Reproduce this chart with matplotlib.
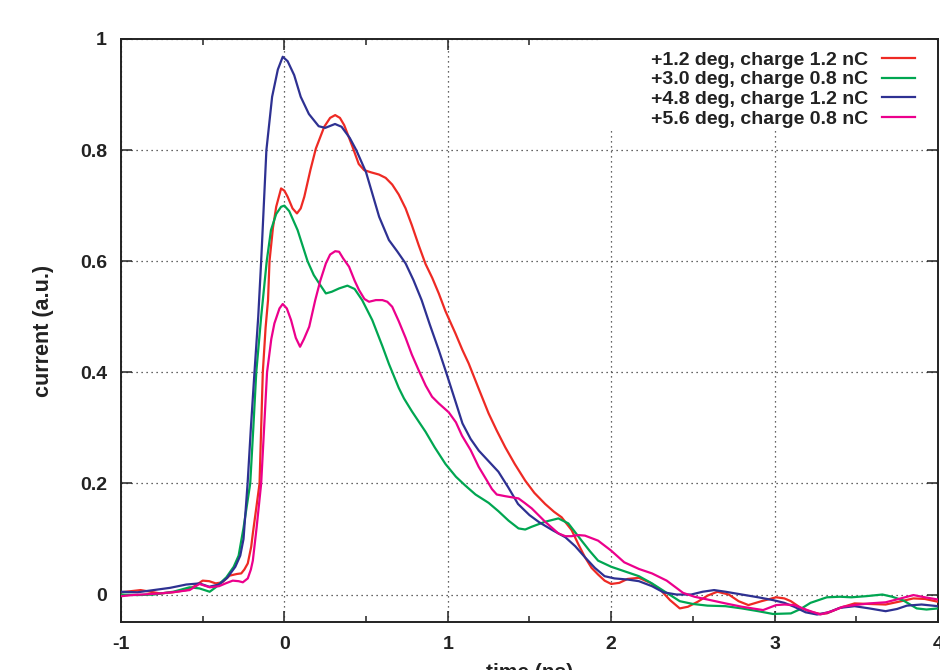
import matplotlib
matplotlib.use("Agg")
import matplotlib.pyplot as plt
from matplotlib.ticker import MultipleLocator
from matplotlib.patches import Rectangle

# Bunch current profiles for four RF phase / charge settings
labels = [
    "+1.2 deg, charge 1.2 nC",
    "+3.0 deg, charge 0.8 nC",
    "+4.8 deg, charge 1.2 nC",
    "+5.6 deg, charge 0.8 nC",
]
colors = ["#ee2a24", "#00a651", "#2e3192", "#ec008c"]

red_t = [-1.0, -0.94, -0.88, -0.82, -0.76, -0.68, -0.60, -0.55, -0.50, -0.46, -0.42, -0.38,
         -0.335, -0.29, -0.264, -0.245, -0.224, -0.203, -0.193, -0.17, -0.152, -0.132, -0.115,
         -0.10, -0.091, -0.07, -0.05, -0.02, 0.0, 0.02, 0.05, 0.077, 0.10, 0.122, 0.16, 0.193,
         0.244, 0.28, 0.311, 0.34, 0.366, 0.417, 0.455, 0.488, 0.53, 0.579, 0.62, 0.66, 0.70,
         0.742, 0.78, 0.823, 0.864, 0.905, 0.945, 0.986, 1.047, 1.09, 1.128, 1.19, 1.25, 1.30,
         1.352, 1.41, 1.474, 1.53, 1.596, 1.65, 1.697, 1.758, 1.80, 1.84, 1.88, 1.92, 1.96, 2.0,
         2.05, 2.10, 2.17, 2.24, 2.30, 2.36, 2.42, 2.47, 2.53, 2.59, 2.65, 2.72, 2.78, 2.84, 2.92,
         3.01, 3.06, 3.10, 3.16, 3.22, 3.28, 3.32, 3.40, 3.49, 3.58, 3.68, 3.76, 3.85, 3.92, 4.0]
red_i = [0.004, 0.006, 0.008, 0.005, 0.002, 0.004, 0.008, 0.015, 0.025, 0.024, 0.020, 0.022,
         0.034, 0.037, 0.038, 0.045, 0.056, 0.086, 0.110, 0.160, 0.200, 0.400, 0.480,
         0.530, 0.600, 0.660, 0.698, 0.731, 0.727, 0.716, 0.695, 0.686, 0.695, 0.716, 0.765, 0.803,
         0.842, 0.858, 0.863, 0.858, 0.845, 0.806, 0.775, 0.764, 0.760, 0.756, 0.750, 0.738, 0.720,
         0.695, 0.665, 0.628, 0.595, 0.570, 0.542, 0.510, 0.470, 0.440, 0.416, 0.370, 0.326, 0.295,
         0.265, 0.235, 0.205, 0.183, 0.163, 0.149, 0.139, 0.116, 0.090, 0.067, 0.048, 0.036, 0.025, 0.019,
         0.021, 0.028, 0.030, 0.021, 0.009, -0.010, -0.025, -0.022, -0.013, -0.002, 0.005, 0.000, -0.012, -0.019, -0.012,
         -0.005, -0.007, -0.012, -0.024, -0.031, -0.035, -0.034, -0.024, -0.016, -0.017, -0.018, -0.013, -0.007, -0.008, -0.013]

green_t = [-1.0, -0.9, -0.8, -0.68, -0.58, -0.52, -0.457, -0.42, -0.355, -0.31, -0.28, -0.25,
           -0.209, -0.19, -0.172, -0.142, -0.108, -0.082, -0.05, -0.02, 0.0, 0.03, 0.081, 0.142,
           0.18, 0.213, 0.254, 0.29, 0.335, 0.386, 0.43, 0.476, 0.538, 0.60, 0.64, 0.70, 0.732,
           0.78, 0.823, 0.864, 0.92, 0.986, 1.05, 1.108, 1.17, 1.25, 1.31, 1.372, 1.433, 1.474,
           1.514, 1.596, 1.677, 1.738, 1.78, 1.819, 1.87, 1.92, 2.0, 2.08, 2.17, 2.25, 2.34, 2.42,
           2.50, 2.59, 2.70, 2.80, 2.90, 2.99, 3.10, 3.16, 3.22, 3.32, 3.40, 3.47, 3.56, 3.66, 3.72,
           3.79, 3.87, 3.93, 4.0]
green_i = [0.000, -0.001, 0.000, 0.005, 0.013, 0.011, 0.005, 0.013, 0.031, 0.050, 0.070, 0.120,
           0.200, 0.300, 0.400, 0.500, 0.600, 0.656, 0.685, 0.698, 0.700, 0.690, 0.656, 0.600,
           0.575, 0.560, 0.542, 0.545, 0.551, 0.556, 0.550, 0.530, 0.494, 0.447, 0.415, 0.372, 0.353,
           0.330, 0.311, 0.293, 0.265, 0.235, 0.212, 0.196, 0.180, 0.165, 0.150, 0.133, 0.119, 0.117,
           0.122, 0.131, 0.137, 0.128, 0.112, 0.097, 0.078, 0.061, 0.050, 0.042, 0.033, 0.020, 0.003, -0.012,
           -0.017, -0.020, -0.021, -0.025, -0.030, -0.035, -0.034, -0.026, -0.015, -0.005, -0.004, -0.005, -0.003, 0.000, -0.004,
           -0.011, -0.025, -0.027, -0.025]

blue_t = [-1.0, -0.9, -0.8, -0.7, -0.6, -0.52, -0.46, -0.40, -0.35, -0.30, -0.27, -0.25, -0.225,
          -0.205, -0.183, -0.16, -0.142, -0.11, -0.075, -0.04, -0.01, 0.02, 0.06, 0.10, 0.15, 0.21,
          0.25, 0.31, 0.35, 0.40, 0.44, 0.50, 0.58, 0.64, 0.69, 0.742, 0.79, 0.84, 0.89, 0.945, 0.99,
          1.05, 1.09, 1.14, 1.19, 1.25, 1.31, 1.37, 1.43, 1.50, 1.56, 1.64, 1.72, 1.78, 1.84, 1.90,
          1.96, 2.02, 2.10, 2.17, 2.25, 2.32, 2.40, 2.49, 2.56, 2.63, 2.70, 2.80, 2.90, 2.99, 3.06,
          3.12, 3.19, 3.26, 3.33, 3.40, 3.49, 3.58, 3.68, 3.75, 3.81, 3.90, 4.0]
blue_i = [0.005, 0.004, 0.008, 0.012, 0.018, 0.020, 0.014, 0.018, 0.030, 0.050, 0.070, 0.100, 0.200,
          0.300, 0.400, 0.500, 0.600, 0.800, 0.896, 0.945, 0.968, 0.960, 0.935, 0.896, 0.865, 0.843,
          0.840, 0.847, 0.842, 0.822, 0.800, 0.760, 0.680, 0.638, 0.618, 0.596, 0.566, 0.530, 0.486, 0.440, 0.400,
          0.345, 0.308, 0.280, 0.259, 0.240, 0.221, 0.193, 0.163, 0.143, 0.130, 0.116, 0.103, 0.087, 0.067, 0.048,
          0.033, 0.029, 0.027, 0.024, 0.015, 0.004, 0.000, 0.000, 0.005, 0.008, 0.005, 0.000, -0.005, -0.010, -0.015,
          -0.022, -0.032, -0.036, -0.032, -0.024, -0.021, -0.025, -0.030, -0.026, -0.020, -0.018, -0.021]

magenta_t = [-1.0, -0.93, -0.87, -0.76, -0.66, -0.58, -0.52, -0.457, -0.40, -0.36, -0.316, -0.28,
             -0.254, -0.224, -0.205, -0.193, -0.17, -0.142, -0.106, -0.08, -0.061, -0.03, -0.010,
             0.015, 0.041, 0.07, 0.096, 0.12, 0.152, 0.189, 0.22, 0.254, 0.28, 0.311, 0.335, 0.36,
             0.396, 0.43, 0.457, 0.49, 0.518, 0.56, 0.60, 0.63, 0.66, 0.70, 0.742, 0.78, 0.823, 0.865,
             0.904, 0.945, 1.006, 1.05, 1.087, 1.14, 1.189, 1.24, 1.27, 1.30, 1.352, 1.433, 1.47, 1.514,
             1.596, 1.677, 1.72, 1.758, 1.80, 1.84, 1.92, 2.0, 2.08, 2.17, 2.25, 2.34, 2.44, 2.51, 2.59,
             2.70, 2.80, 2.93, 3.01, 3.06, 3.12, 3.20, 3.28, 3.35, 3.42, 3.49, 3.58, 3.68, 3.76, 3.85,
             3.92, 4.0]
magenta_i = [-0.003, -0.001, 0.000, 0.002, 0.005, 0.008, 0.019, 0.013, 0.015, 0.020, 0.025, 0.024,
             0.022, 0.029, 0.045, 0.061, 0.120, 0.200, 0.400, 0.460, 0.488, 0.515, 0.523,
             0.515, 0.494, 0.462, 0.446, 0.460, 0.482, 0.530, 0.565, 0.596, 0.612, 0.618, 0.617, 0.605,
             0.590, 0.565, 0.548, 0.532, 0.527, 0.530, 0.530, 0.527, 0.518, 0.492, 0.462, 0.432, 0.403, 0.376,
             0.356, 0.344, 0.328, 0.310, 0.286, 0.260, 0.230, 0.205, 0.190, 0.180, 0.177, 0.173, 0.165, 0.155,
             0.131, 0.110, 0.105, 0.105, 0.107, 0.106, 0.097, 0.079, 0.058, 0.046, 0.038, 0.025, 0.003, -0.004, -0.009,
             -0.016, -0.022, -0.028, -0.019, -0.018, -0.019, -0.028, -0.036, -0.030, -0.022, -0.019, -0.016, -0.014, -0.008, -0.001,
             -0.005, -0.009]

x_ticks = [-1, 0, 1, 2, 3, 4]
x_ticklabels = ["-1", "0", "1", "2", "3", "4"]
y_ticks = [0, 0.2, 0.4, 0.6, 0.8, 1]
y_ticklabels = ["0", "0.2", "0.4", "0.6", "0.8", "1"]

plt.rcParams["font.family"] = ["Liberation Sans", "DejaVu Sans"]
plt.rcParams["font.weight"] = "bold"
ink = "#222222"

fig = plt.figure(figsize=(9.4, 6.7), dpi=100)
ax = fig.add_axes([0.1287, 0.0712, 0.8691, 0.8706])

series = [(red_t, red_i), (green_t, green_i), (blue_t, blue_i), (magenta_t, magenta_i)]
for (t, i), lab, col in zip(series, labels, colors):
    ax.plot(t, i, color=col, lw=1.6, label=lab, solid_joinstyle="round", zorder=3)

ax.set_xlim(-1, 4)
ax.set_ylim(-0.05, 1.0)
ax.set_xticks(x_ticks)
ax.set_xticklabels(x_ticklabels)
ax.set_yticks(y_ticks)
ax.set_yticklabels(y_ticklabels)
ax.xaxis.set_minor_locator(MultipleLocator(0.5))

ax.tick_params(which="both", direction="in", top=True, right=True, width=1.1,
               labelsize=14, colors=ink)
ax.tick_params(which="major", length=8, pad=10)
ax.tick_params(which="minor", length=4)
for sp in ax.spines.values():
    sp.set_linewidth(1.4)
    sp.set_color(ink)

ax.grid(True, which="major", color="#333333", linestyle=(0, (1, 3)), linewidth=0.9)
ax.set_axisbelow(True)

# white key area that blanks the grid behind the legend
ax.add_patch(Rectangle((0.586, 0.848), 0.412, 0.152, transform=ax.transAxes,
                       facecolor="white", edgecolor="none", zorder=1))

ax.set_xlabel("time (ns)", fontsize=15, fontweight="bold", color=ink, labelpad=7)
ax.set_ylabel("current (a.u.)", fontsize=15.5, fontweight="bold", color=ink, labelpad=19)

leg = ax.legend(loc="upper right", bbox_to_anchor=(0.977, 0.986), markerfirst=False,
                frameon=False, prop={"size": 14, "weight": "bold"},
                handlelength=1.7, handletextpad=0.7, labelspacing=0.11,
                borderpad=0.2, borderaxespad=0)
for txt in leg.get_texts():
    txt.set_color(ink)

fig.savefig("out.png", dpi=100)
